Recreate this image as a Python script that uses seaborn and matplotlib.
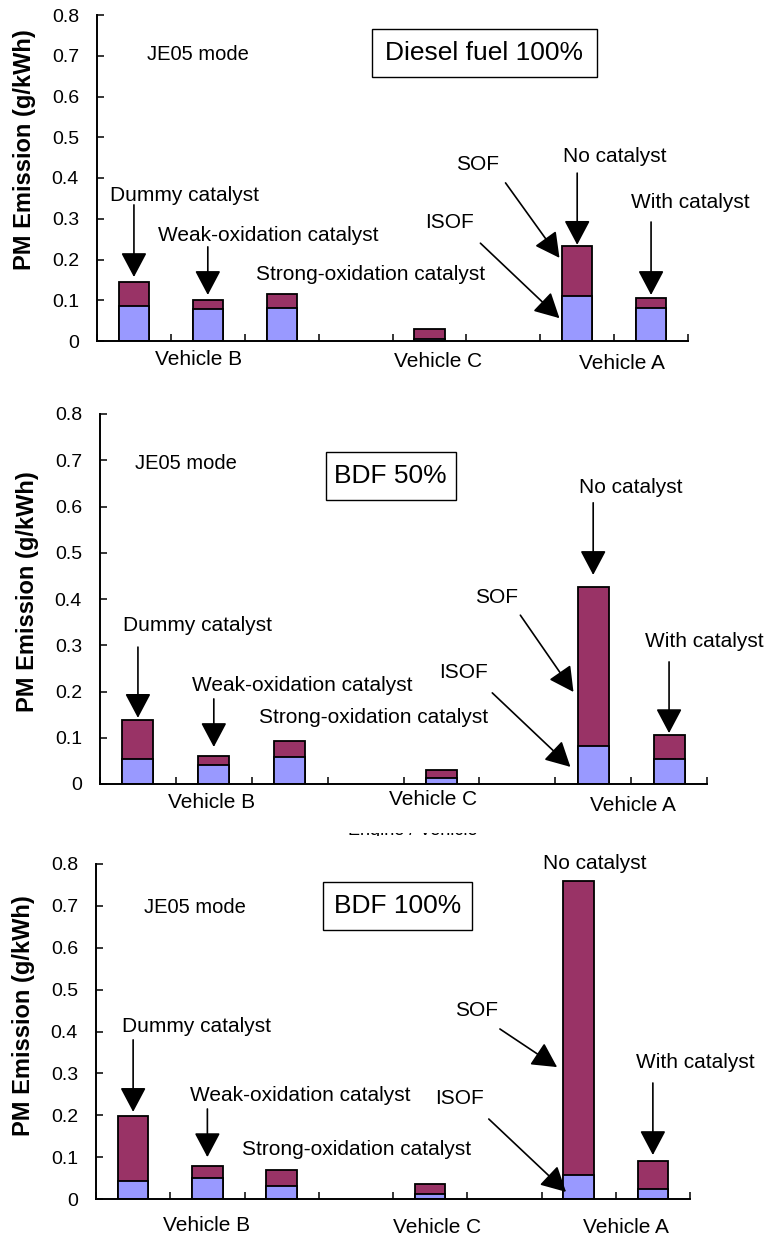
import matplotlib
matplotlib.use('Agg')
import matplotlib.pyplot as plt
import matplotlib.patches as mpatches
from matplotlib.transforms import Bbox, TransformedBbox
from matplotlib.ticker import FuncFormatter
import seaborn as sns
import pandas as pd
import numpy as np

sns.set_style('ticks')
plt.rcParams['font.family'] = ['Liberation Sans', 'DejaVu Sans']
plt.rcParams['text.color'] = 'black'
plt.rcParams['axes.labelcolor'] = 'black'
plt.rcParams['xtick.color'] = 'black'
plt.rcParams['ytick.color'] = 'black'

# ===== du lieu doc tu hinh =====
slots = ['Dummy', 'Weak', 'Strong', 'gap1', 'VehC', 'gap2', 'NoCat', 'WithCat']
bar_slots = ['Dummy', 'Weak', 'Strong', 'VehC', 'NoCat', 'WithCat']

total_diesel = [0.144, 0.100, 0.115, 0.030, 0.233, 0.106]
isof_diesel = [0.086, 0.078, 0.082, 0.006, 0.110, 0.080]

total_bdf50 = [0.138, 0.060, 0.094, 0.030, 0.427, 0.105]
isof_bdf50 = [0.055, 0.042, 0.059, 0.014, 0.082, 0.053]

total_bdf100 = [0.198, 0.080, 0.069, 0.035, 0.760, 0.091]
isof_bdf100 = [0.044, 0.049, 0.031, 0.012, 0.057, 0.025]

fuel_names = ['Diesel fuel 100%', 'BDF 50%', 'BDF 100%']
vehicle_names = ['Vehicle B', 'Vehicle C', 'Vehicle A']
y_ticks = [0, 0.1, 0.2, 0.3, 0.4, 0.5, 0.6, 0.7, 0.8]

SOF_COLOR = '#993366'
ISOF_COLOR = '#9999FF'
W, H = 768, 1243

# ===== bo cuc tung o (pixel / toa do) =====
panels = [
    dict(total=total_diesel, isof=isof_diesel, fuel=fuel_names[0],
         box=(97, 15, 591, 326), ylab_y=0.586, je05=(0.86, 0.704),
         fuel_box=(0.465, 0.810, 0.846, 0.957),
         veh=[(0.88, -0.058), (4.11, -0.063), (6.60, -0.068)],
         notes=[('Dummy catalyst', (0.68, 0.358), (0, 0.334), (0, 0.157)),
                ('Weak-oxidation catalyst', (1.82, 0.260), (1, 0.231), (1, 0.113)),
                ('Strong-oxidation catalyst', (3.20, 0.162), None, None),
                ('ISOF', (4.27, 0.290), (4.69, 0.240), (5.76, 0.056)),
                ('SOF', (4.65, 0.432), (5.03, 0.388), (5.76, 0.204)),
                ('No catalyst', (6.51, 0.452), (6, 0.412), (6, 0.236)),
                ('With catalyst', (7.53, 0.339), (7, 0.292), (7, 0.113))]),
    dict(total=total_bdf50, isof=isof_bdf50, fuel=fuel_names[1],
         box=(100, 414, 607, 370), ylab_y=0.519, je05=(0.63, 0.694),
         fuel_box=(0.372, 0.768, 0.586, 0.897),
         veh=[(0.97, -0.051), (3.89, -0.043), (6.53, -0.057)],
         notes=[('Dummy catalyst', (0.79, 0.342), (0, 0.296), (0, 0.143)),
                ('Weak-oxidation catalyst', (2.17, 0.214), (1, 0.184), (1, 0.080)),
                ('Strong-oxidation catalyst', (3.11, 0.143), None, None),
                ('ISOF', (4.29, 0.242), (4.67, 0.197), (5.70, 0.037)),
                ('SOF', (4.72, 0.404), (5.04, 0.365), (5.74, 0.199)),
                ('No catalyst', (6.50, 0.642), (6, 0.608), (6, 0.452)),
                ('With catalyst', (7.47, 0.309), (7, 0.264), (7, 0.110))]),
    dict(total=total_bdf100, isof=isof_bdf100, fuel=fuel_names[2],
         box=(96, 864, 594, 335), ylab_y=0.546, je05=(0.83, 0.695),
         fuel_box=(0.382, 0.803, 0.633, 0.946),
         veh=[(0.99, -0.078), (4.09, -0.084), (6.64, -0.084)],
         notes=[('Dummy catalyst', (0.86, 0.411), (0, 0.380), (0, 0.208)),
                ('Weak-oxidation catalyst', (2.25, 0.248), (1, 0.215), (1, 0.100)),
                ('Strong-oxidation catalyst', (3.01, 0.119), None, None),
                ('ISOF', (4.40, 0.241), (4.79, 0.191), (5.83, 0.017)),
                ('SOF', (4.63, 0.449), (4.94, 0.406), (5.71, 0.315)),
                ('No catalyst', (6.22, 0.802), None, None),
                ('With catalyst', (7.57, 0.325), (7, 0.277), (7, 0.105))]),
]

fig = plt.figure(figsize=(W / 100, H / 100), dpi=100)

for p in panels:
    left, top, wid, hei = p['box']
    ax = fig.add_axes([left / W, (H - top - hei) / H, wid / W, hei / H])

    df = pd.DataFrame({'slot': bar_slots, 'total': p['total'], 'isof': p['isof']})
    # cot tong (SOF) roi cot ISOF phu len
    sns.barplot(data=df, x='slot', y='total', order=slots, color=SOF_COLOR,
                saturation=1, width=0.41, edgecolor='black', linewidth=1.3,
                errorbar=None, ax=ax)
    sns.barplot(data=df, x='slot', y='isof', order=slots, color=ISOF_COLOR,
                saturation=1, width=0.41, edgecolor='black', linewidth=1.3,
                errorbar=None, ax=ax)

    ax.set_xlim(-0.5, 7.5)
    ax.set_ylim(0, 0.8)
    ax.set_xticks(np.arange(-0.5, 8.0, 1.0))
    ax.set_xticklabels([])
    ax.set_xlabel('')
    ax.set_yticks(y_ticks)
    ax.yaxis.set_major_formatter(FuncFormatter(lambda v, _: '0' if v == 0 else f'{v:.1f}'))
    ax.tick_params(axis='both', direction='in', length=5, width=1.1, color='black')
    ax.tick_params(axis='y', labelsize=14, pad=13, labelcolor='black')
    for s in ['top', 'right']:
        ax.spines[s].set_visible(False)
    for s in ['left', 'bottom']:
        ax.spines[s].set_color('black')
        ax.spines[s].set_linewidth(1.4)

    ax.set_ylabel('PM Emission (g/kWh)', fontsize=17, fontweight='bold', va='center',
                  color='black')
    ax.yaxis.set_label_coords(-72 / wid, p['ylab_y'])

    ax.text(p['je05'][0], p['je05'][1], 'JE05 mode', fontsize=14.5, ha='center', va='center')

    x0, y0, x1, y1 = p['fuel_box']
    ax.add_patch(mpatches.Rectangle((x0, y0), x1 - x0, y1 - y0, transform=ax.transAxes,
                                    facecolor='white', edgecolor='black', lw=1.0, clip_on=False))
    ax.text((x0 + x1) / 2, (y0 + y1) / 2, p['fuel'], transform=ax.transAxes,
            fontsize=19, ha='center', va='center')

    for name, (vx, vy) in zip(vehicle_names, p['veh']):
        ax.text(vx, vy, name, transform=ax.get_xaxis_transform(), fontsize=15,
                ha='center', va='center', clip_on=False)

    for label, txy, a_start, a_tip in p['notes']:
        ax.text(txy[0], txy[1], label, fontsize=15, ha='center', va='center', clip_on=False)
        if a_start is not None:
            ax.annotate('', xy=a_tip, xytext=a_start,
                        arrowprops=dict(arrowstyle='-|>,head_length=0.85,head_width=0.45',
                                        mutation_scale=18, color='black', lw=1.2,
                                        shrinkA=0, shrinkB=0))

# chu bi cat mat o giua o 2 va o 3
t = fig.text(413 / W, (H - 835) / H, 'Engine / Vehicle', fontsize=13,
             ha='center', va='baseline')
t.set_clip_box(TransformedBbox(Bbox([[0, (H - 835.5) / H], [1, (H - 832.5) / H]]),
                               fig.transFigure))
t.set_clip_on(True)

plt.savefig('out.png', dpi=100)
plt.close()
